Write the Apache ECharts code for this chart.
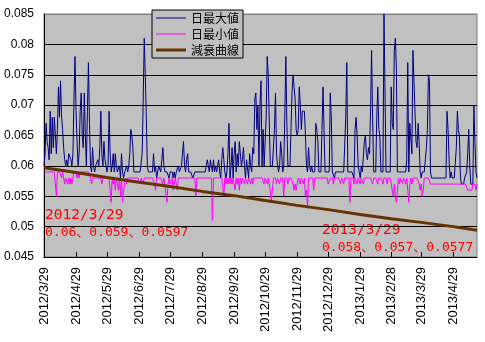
<!DOCTYPE html>
<html>
<head>
<meta charset="utf-8">
<script src="https://cdn.jsdelivr.net/npm/echarts@6/dist/echarts.min.js"></script>
<style>
  html, body { margin: 0; padding: 0; background: #fff; }
  #chart { width: 485px; height: 342px; }
</style>
</head>
<body>
<div id="chart"></div>
<script>
// Daily readings in nSv/h, one per day starting 2012/3/29 (420 days)
const dailyMaxNSv = [
  60,62,67,64,63,61,69,62,68,63, 68,65,62,66,73,68,74,68,66,63,
  61,60,61,60,62,62,61,60,62,71, 78,69,64,60,62,69,72,65,63,72,
  65,60,69,77,67,60,59,63,60,59, 60,60,61,60,63,69,62,60,64,61,
  60,59,60,69,62,59,60,62,59,62, 60,59,59,60,58,62,59,58,59,59,
  60,59,60,62,66,65,63,59,59,59, 59,59,59,59,59,62,71,81,75,68,
  60,59,59,59,59,59,62,59,60,58, 59,60,60,59,61,63,60,59,59,59,
  59,58,59,59,59,58,59,58,59,59, 60,59,59,60,62,64,60,59,61,62,
  59,59,59,59,58,58,59,59,59,59, 59,59,59,59,59,59,59,60,61,60,
  59,61,60,59,61,59,60,59,59,61, 59,58,61,63,61,59,58,59,62,67,
  58,60,63,58,62,64,59,62,60,64, 62,60,61,63,60,58,61,61,58,62,
  60,59,63,62,71,72,66,70,60,70, 74,60,66,60,60,68,78,75,67,60,
  60,60,60,66,72,62,60,59,60,64, 62,59,60,68,78,67,60,60,60,60,
  72,75,73,71,66,65,66,73,70,66, 69,69,69,65,60,59,63,60,59,60,
  59,59,59,67,66,64,59,59,59,66, 73,66,59,59,59,59,59,72,68,59,
  59,58,59,59,59,59,59,59,59,59, 59,59,68,77,59,59,59,59,59,59,
  58,66,68,65,60,59,58,60,59,59, 64,65,62,61,63,62,69,79,68,59,
  59,59,68,73,66,65,59,59,59,85, 85,59,59,59,59,59,73,67,66,79,
  81,76,59,59,59,59,59,59,59,59, 59,61,77,59,67,67,62,79,74,69,
  64,63,67,64,59,58,59,59,59,61, 63,66,75,74,59,58,58,58,58,58,
  58,58,58,58,58,58,58,58,58,58, 69,66,61,58,59,58,58,58,58,63,
  69,66,65,58,57,57,57,58,58,59, 62,66,60,57,57,57,70,64,59,58
];

const dailyMinNSv = [
  59,59,59,59,59,59,59,59,59,59, 59,59,55,59,59,59,59,58,59,58,
  57,58,58,57,58,57,58,57,58,59, 59,59,58,59,58,59,59,59,59,59,
  59,59,59,59,59,58,57,58,58,58, 58,58,58,58,58,58,57,58,58,58,
  58,58,58,58,58,54,58,57,58,56, 58,57,56,58,55,58,54,56,57,58,
  57,58,58,58,58,58,58,58,58,58, 58,58,58,57,58,58,57,58,58,58,
  58,58,58,58,58,58,58,57,56,58, 58,58,58,58,58,57,58,57,57,54,
  57,58,57,57,58,56,57,58,57,56, 58,58,58,58,58,58,58,58,58,58,
  58,58,58,58,58,58,58,55,58,58, 58,58,58,58,58,58,58,58,58,58,
  58,58,58,51,58,58,58,58,58,58, 58,58,58,58,55,58,57,58,57,58,
  57,58,57,58,57,56,58,57,58,56, 58,57,58,58,57,58,58,57,58,58,
  57,58,57,58,58,58,58,58,58,58, 58,58,58,57,58,58,57,58,58,56,
  54,56,58,58,58,57,58,58,57,58, 58,58,55,58,58,58,57,58,58,58,
  58,57,56,57,56,57,58,58,57,58, 58,57,58,55,56,53,58,58,58,58,
  58,56,58,58,58,58,58,58,58,58, 58,58,58,58,58,57,57,58,58,58,
  57,58,58,58,58,58,58,57,58,58, 57,58,58,58,58,58,54,58,58,58,
  57,58,58,57,58,58,57,58,58,57, 58,58,58,58,58,58,58,58,57,58,
  58,58,58,57,58,58,58,58,57,58, 58,58,57,58,58,58,57,56,55,57,
  55,54,56,58,57,58,58,57,58,58, 57,58,56,54,57,58,57,58,58,58,
  58,58,58,57,56,57,55,56,58,58, 58,58,58,58,57,57,57,57,57,57,
  57,57,57,57,57,57,57,57,57,57, 57,57,57,57,57,57,57,57,57,57,
  57,57,57,57,57,57,57,57,57,57, 56,56,56,56,56,57,57,57,56,57
];

// Decay curve (μSv/h) sampled at these dates
const decayDates = ['2012/3/29','2012/4/29','2012/5/29','2012/6/29','2012/7/29','2012/8/29',
  '2012/9/29','2012/10/29','2012/11/29','2012/12/29','2013/1/29','2013/2/28','2013/3/29',
  '2013/4/29','2013/5/22'];
const decayValues = [0.0597,0.0589,0.0581,0.0573,0.0566,0.0558,0.0551,0.0543,0.0535,
  0.0528,0.0520,0.0513,0.0507,0.0500,0.0494];

// Labelled dates on the horizontal axis
const monthTicks = ['2012/3/29','2012/4/29','2012/5/29','2012/6/29','2012/7/29','2012/8/29',
  '2012/9/29','2012/10/29','2012/11/29','2012/12/29','2013/1/29','2013/2/28','2013/3/29',
  '2013/4/29'];

const seriesNames = ['日最大値', '日最小値', '減衰曲線'];
const noteStartDate = '2012/3/29';
const noteStartValues = '0.06、0.059、0.0597';
const noteEndDate = '2013/3/29';
const noteEndValues = '0.058、0.057、0.0577';

// one category per day
const days = [];
{
  const t0 = Date.UTC(2012, 2, 29);
  for (let i = 0; i < dailyMaxNSv.length; i++) {
    const d = new Date(t0 + i * 86400000);
    days.push(d.getUTCFullYear() + '/' + (d.getUTCMonth() + 1) + '/' + d.getUTCDate());
  }
}
const toMicro = v => v / 1000;   // nSv/h -> μSv/h
const maxData = dailyMaxNSv.map(toMicro);
const minData = dailyMinNSv.map(toMicro);
const decayData = days.map(d => {
  const k = decayDates.indexOf(d);
  return k >= 0 ? decayValues[k] : null;
});

const isMonthTick = (idx) => monthTicks.indexOf(days[idx]) >= 0;

// plain line swatches for the legend (thin for the daily series, thick for the curve)
const thinSwatch = 'path://M0,0H30V1H0Z';
const thickSwatch = 'path://M0,0H30V3H0Z';

const noteFont = '"DejaVu Sans Mono", "Noto Sans CJK JP", monospace';
const noteRich = {
  d: { fontFamily: noteFont, fontSize: 14.5, lineHeight: 17, fill: '#ff0000', color: '#ff0000' },
  v: { fontFamily: noteFont, fontSize: 13, lineHeight: 17, fill: '#ff0000', color: '#ff0000' }
};

const chart = echarts.init(document.getElementById('chart'), null, { renderer: 'canvas' });
chart.setOption({
  animation: false,
  backgroundColor: '#ffffff',
  grid: {
    left: 44, right: 8, top: 14, bottom: 85,
    show: true, backgroundColor: '#c0c0c0', borderColor: '#808080', borderWidth: 1
  },
  legend: {
    orient: 'vertical', left: 152, top: 10,
    padding: [2, 4, 2, 4], itemGap: 4, itemWidth: 30, itemHeight: 14,
    symbolKeepAspect: true,
    backgroundColor: '#c0c0c0', borderColor: '#000', borderWidth: 1, borderRadius: 0,
    textStyle: { fontFamily: '"Noto Sans CJK JP"', fontSize: 12, color: '#000' },
    data: [
      { name: seriesNames[0], icon: thinSwatch },
      { name: seriesNames[1], icon: thinSwatch },
      { name: seriesNames[2], icon: thickSwatch }
    ]
  },
  xAxis: {
    type: 'category', data: days, boundaryGap: false,
    axisLine: { lineStyle: { color: '#000', width: 1 } },
    axisTick: { inside: true, length: 5, interval: isMonthTick, lineStyle: { color: '#000' } },
    axisLabel: {
      rotate: 90, interval: isMonthTick, margin: 10,
      fontFamily: '"Liberation Sans", Arial, sans-serif', fontSize: 13, color: '#000'
    },
    splitLine: { show: false }
  },
  yAxis: {
    type: 'value', min: 0.045, max: 0.085, interval: 0.005,
    axisLine: { show: true, lineStyle: { color: '#000', width: 1 } },
    axisTick: { show: false },
    axisLabel: {
      margin: 10, fontFamily: '"Liberation Sans", Arial, sans-serif', fontSize: 12, color: '#000'
    },
    splitLine: {
      lineStyle: { color: ['#000', '#000', '#000', '#000', '#000', '#000', '#000', '#000', '#808080'], width: 1 }
    }
  },
  series: [
    {
      name: seriesNames[0], type: 'line', data: maxData, symbol: 'none',
      lineStyle: { color: '#000080', width: 1 }, itemStyle: { color: '#000080' }
    },
    {
      name: seriesNames[1], type: 'line', data: minData, symbol: 'none',
      lineStyle: { color: '#ff00ff', width: 1 }, itemStyle: { color: '#ff00ff' }
    },
    {
      name: seriesNames[2], type: 'line', data: decayData, symbol: 'none', connectNulls: true,
      lineStyle: { color: '#663300', width: 3 }, itemStyle: { color: '#663300' }
    }
  ],
  graphic: [
    {
      type: 'text', left: 45, top: 208, silent: true,
      style: {
        text: '{d|' + noteStartDate + '}\n{v|' + noteStartValues + '}',
        rich: noteRich, fill: '#ff0000'
      }
    },
    {
      type: 'text', left: 322, top: 223, silent: true,
      style: {
        text: '{d|' + noteEndDate + '}\n{v|' + noteEndValues + '}',
        rich: noteRich, fill: '#ff0000'
      }
    }
  ]
});
</script>
</body>
</html>
